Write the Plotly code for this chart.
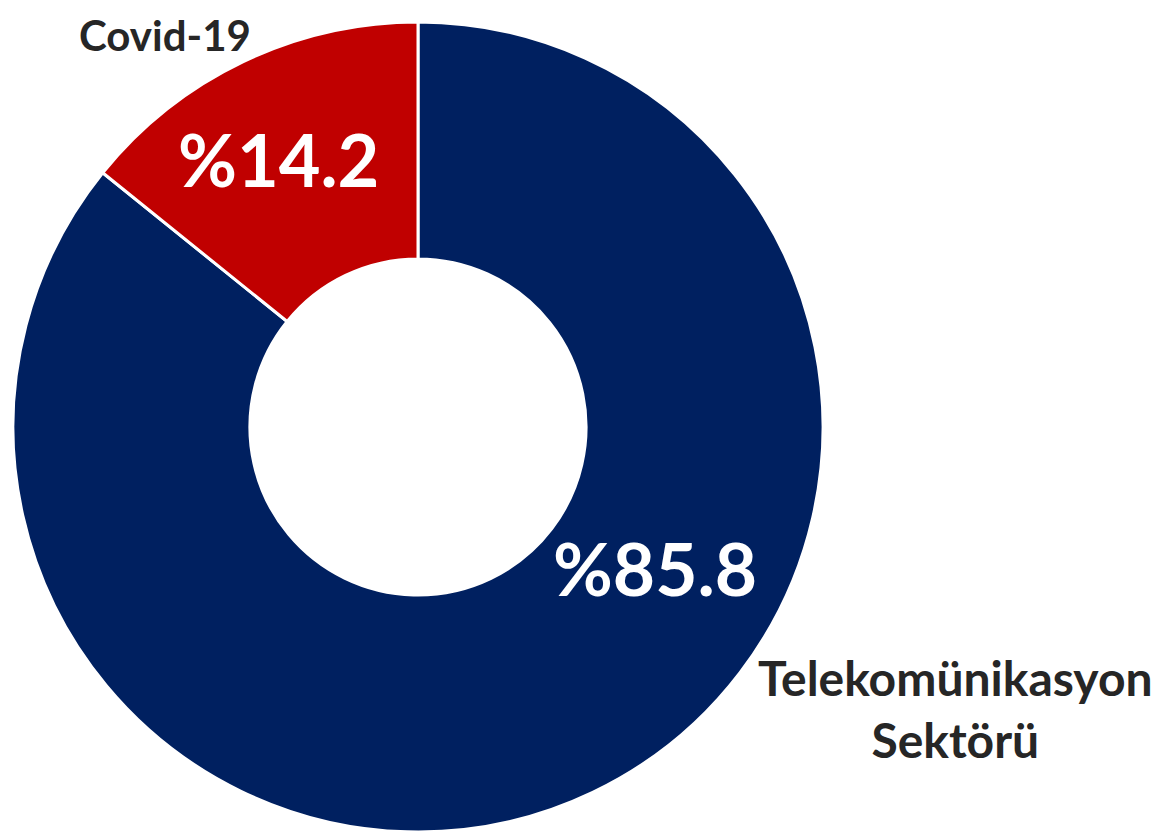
import plotly.graph_objects as go

labels = ["Telekomünikasyon Sektörü", "Covid-19"]
values = [85.8, 14.2]
colors = ["#002060", "#C00000"]
pct_text = ["%85.8", "%14.2"]

W, H = 1169, 833
OFF = 8  # page body margin compensation

fig = go.Figure(go.Pie(
    labels=labels,
    values=values,
    hole=0.415,
    sort=False,
    direction="clockwise",
    rotation=0,
    marker=dict(colors=colors, line=dict(color="white", width=3)),
    textinfo="none",
    hoverinfo="label+percent",
    domain=dict(x=[(13 - OFF) / W, (823 - OFF) / W],
                y=[1 - (832 - OFF) / H, 1 - (22 - OFF) / H]),
    showlegend=False,
))

def ann(text, px, py, size, color, yanchor="middle"):
    return dict(text=text, x=(px - OFF) / W, y=1 - (py - OFF) / H, xref="paper", yref="paper",
                xanchor="center", yanchor=yanchor, showarrow=False,
                font=dict(family="Lato", size=size, color=color, weight="bold"))

fig.update_layout(
    width=W, height=H,
    margin=dict(l=0, r=0, t=0, b=0),
    paper_bgcolor="white",
    plot_bgcolor="white",
    annotations=[
        ann(pct_text[1], 278, 159, 72, "white"),
        ann(pct_text[0], 655, 568, 73, "white"),
        ann(labels[1], 165, OFF, 42, "#262626", yanchor="top"),
        ann("Telekomünikasyon<br>Sektörü", 955, 708, 48, "#262626"),
    ],
)

fig.write_html("out.html")
